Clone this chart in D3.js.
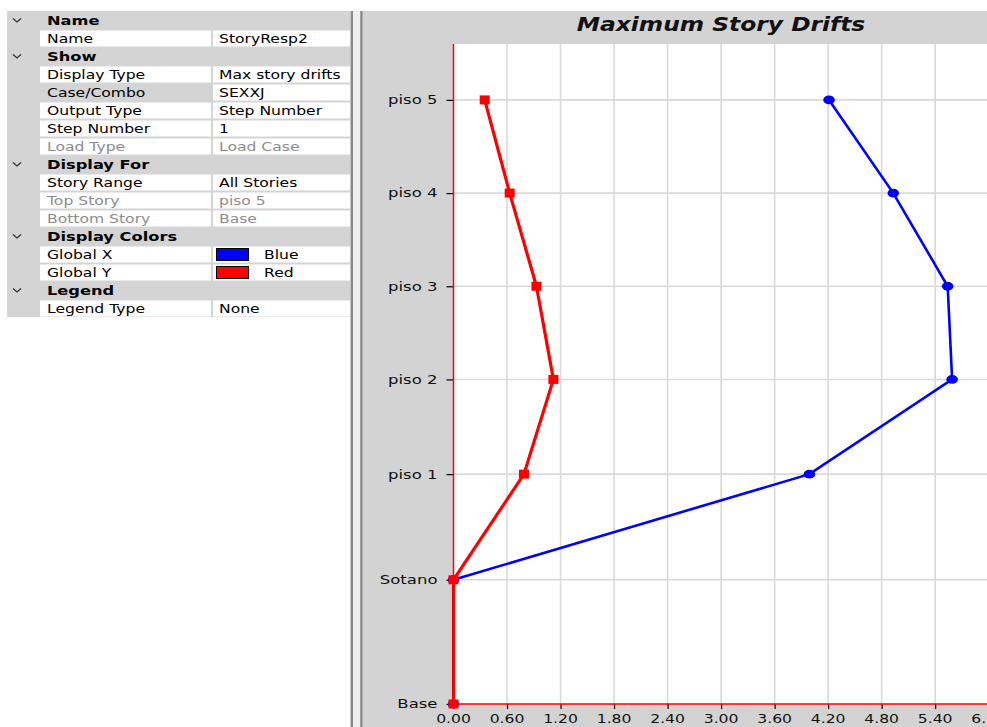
<!DOCTYPE html>
<html><head><meta charset="utf-8">
<script src="https://cdn.jsdelivr.net/npm/d3@7"></script>
<style>html,body{margin:0;padding:0;background:#fff;overflow:hidden}</style>
</head><body><div id="chart"></div>
<script>
// ---- data ----
const stories = ["Base", "Sotano", "piso 1", "piso 2", "piso 3", "piso 4", "piso 5"];
const elevations = [0, 4.0, 7.4, 10.45, 13.45, 16.45, 19.45];
const globalX = [0, 0, 3.99, 5.59, 5.54, 4.93, 4.21];
const globalY = [0, 0, 0.79, 1.12, 0.93, 0.63, 0.35];
const xTickValues = [0, 0.6, 1.2, 1.8, 2.4, 3.0, 3.6, 4.2, 4.8, 5.4, 6.0];
const chartTitle = "Maximum Story Drifts";
// property grid rows: [kind, label, value, state]
const propRows = [
  ["h", "Name"],
  ["r", "Name", "StoryResp2", ""],
  ["h", "Show"],
  ["r", "Display Type", "Max story drifts", ""],
  ["r", "Case/Combo", "SEXXJ", "sel"],
  ["r", "Output Type", "Step Number", ""],
  ["r", "Step Number", "1", ""],
  ["r", "Load Type", "Load Case", "dis"],
  ["h", "Display For"],
  ["r", "Story Range", "All Stories", ""],
  ["r", "Top Story", "piso 5", "dis"],
  ["r", "Bottom Story", "Base", "dis"],
  ["h", "Display Colors"],
  ["r", "Global X", "Blue", "blue"],
  ["r", "Global Y", "Red", "red"],
  ["h", "Legend"],
  ["r", "Legend Type", "None", ""]
];

const W = 987, H = 727;
const FONT = "'DejaVu Sans', Verdana, sans-serif";
const SX = 1.2;
const svg = d3.select("#chart").append("svg").attr("width", W).attr("height", H)
  .style("display", "block");
svg.append("rect").attr("width", W).attr("height", H).attr("fill", "#fff");

function txt(g, x, y, s, o = {}) {
  return g.append("text")
    .attr("transform", `translate(${x},${y}) scale(${o.sx || SX},1)`)
    .attr("font-family", FONT)
    .attr("font-size", o.size || 13)
    .attr("font-weight", o.weight || "normal")
    .attr("font-style", o.style || "normal")
    .attr("text-anchor", o.anchor || "start")
    .attr("dominant-baseline", "central")
    .attr("fill", o.fill || "#000")
    .text(s);
}

// ---- property grid ----
const pg = svg.append("g");
const rowH = 18, top0 = 11;
pg.append("rect").attr("x", 7).attr("y", top0).attr("width", 343).attr("height", rowH * propRows.length)
  .attr("fill", "#d4d4d4");
propRows.forEach((r, i) => {
  const t = top0 + i * rowH, cy = t + rowH / 2 + 0.5;
  if (r[0] === "h") {
    pg.append("path").attr("d", `M${13},${cy - 2} L${17},${cy + 1.5} L${21},${cy - 2}`)
      .attr("fill", "none").attr("stroke", "#333").attr("stroke-width", 1.3);
    txt(pg, 47, cy, r[1], { weight: "bold", sx: 1.25 });
  } else {
    if (r[3] !== "sel")
      pg.append("rect").attr("x", 40).attr("y", t + 1.5).attr("width", 171).attr("height", 16).attr("fill", "#fff");
    pg.append("rect").attr("x", 213).attr("y", t + 1.5).attr("width", 137).attr("height", 16).attr("fill", "#fff");
    const col = r[3] === "dis" ? "#8d8d8d" : "#000";
    txt(pg, 47, cy, r[1], { fill: col });
    if (r[3] === "blue" || r[3] === "red") {
      pg.append("rect").attr("x", 216.5).attr("y", t + 3.5).attr("width", 32).attr("height", 12)
        .attr("fill", r[3] === "blue" ? "#0000ff" : "#ff0000").attr("stroke", "#000").attr("stroke-width", 1);
      txt(pg, 264, cy, r[2], { fill: col });
    } else {
      txt(pg, 219, cy, r[2], { fill: col });
    }
  }
});

// ---- splitter ----
svg.append("rect").attr("x", 350.5).attr("y", 11).attr("width", 2.7).attr("height", H - 11).attr("fill", "#8a8a8a");
svg.append("rect").attr("x", 353.2).attr("y", 11).attr("width", 7).attr("height", H - 11).attr("fill", "#efefef");
svg.append("rect").attr("x", 360.2).attr("y", 11).attr("width", 2.6).attr("height", H - 11).attr("fill", "#8a8a8a");

// ---- chart panel ----
const panelX = 362.8;
svg.append("rect").attr("x", panelX).attr("y", 11).attr("width", W - panelX).attr("height", H - 11).attr("fill", "#d3d3d3");

const plotL = 453.5, plotT = 44, plotB = 704;
const x = d3.scaleLinear().domain([0, 6.0]).range([plotL, plotL + 535.2]);
const y = d3.scaleLinear().domain([0, 21.25]).range([plotB, plotT]);

svg.append("rect").attr("x", plotL).attr("y", plotT).attr("width", W - plotL).attr("height", plotB - plotT).attr("fill", "#fff");

// title
txt(svg, 721, 24, chartTitle, { size: 19, weight: "bold", style: "italic", anchor: "middle", sx: 1.23, fill: "#111" });

// grid
const grid = svg.append("g");
grid.selectAll("line.v").data(xTickValues.filter(v => v > 0)).join("line")
  .attr("x1", d => x(d)).attr("x2", d => x(d)).attr("y1", plotT).attr("y2", plotB)
  .attr("stroke", "#d9d9d9").attr("stroke-width", 1.6);
grid.selectAll("line.h").data(elevations.filter(v => v > 0)).join("line")
  .attr("x1", plotL).attr("x2", W).attr("y1", d => y(d)).attr("y2", d => y(d))
  .attr("stroke", "#d9d9d9").attr("stroke-width", 1.6);

// axes
const xAxis = svg.append("g").attr("transform", `translate(0,${plotB})`)
  .call(d3.axisBottom(x).tickValues(xTickValues).tickFormat(d3.format(".2f")).tickSize(5).tickSizeOuter(0));
xAxis.select(".domain").remove();
xAxis.selectAll(".tick line").attr("stroke", "#000").attr("stroke-width", 1.2);
xAxis.selectAll(".tick text").remove();
xTickValues.forEach(v => txt(xAxis, x(v), 14.5, d3.format(".2f")(v), { anchor: "middle", fill: "#111", sx: 1.2 }));

const yAxis = svg.append("g").attr("transform", `translate(${plotL},0)`)
  .call(d3.axisLeft(y).tickValues(elevations).tickSize(7).tickSizeOuter(0));
yAxis.select(".domain").remove();
yAxis.selectAll(".tick line").attr("stroke", "#000").attr("stroke-width", 1.2);
yAxis.selectAll(".tick text").remove();
elevations.forEach((e, i) => txt(yAxis, -16, y(e), stories[i], { anchor: "end", fill: "#111", sx: 1.27, weight: 500 }));

// axis lines (red)
svg.append("line").attr("x1", plotL).attr("x2", W).attr("y1", plotB).attr("y2", plotB)
  .attr("stroke", "#ff0000").attr("stroke-width", 1.5);
svg.append("line").attr("x1", plotL).attr("x2", plotL).attr("y1", plotT).attr("y2", plotB)
  .attr("stroke", "#ff0000").attr("stroke-width", 1.5);

// series
const line = d3.line().x(d => x(d[0])).y(d => y(d[1]));
const blueData = globalX.map((v, i) => [v, elevations[i]]);
const redData = globalY.map((v, i) => [v, elevations[i]]);

svg.append("path").datum(blueData).attr("d", line).attr("fill", "none")
  .attr("stroke", "#0000ff").attr("stroke-width", 2.6);
svg.selectAll("ellipse.b").data(blueData).join("ellipse")
  .attr("cx", d => x(d[0])).attr("cy", d => y(d[1])).attr("rx", 5.8).attr("ry", 4.4).attr("fill", "#0000ff");

svg.append("path").datum(redData).attr("d", line).attr("fill", "none")
  .attr("stroke", "#ff0000").attr("stroke-width", 3.2);
svg.selectAll("rect.r").data(redData).join("rect")
  .attr("x", d => x(d[0]) - 5).attr("y", d => y(d[1]) - 4.5).attr("width", 10).attr("height", 9).attr("fill", "#ff0000");
</script></body></html>
